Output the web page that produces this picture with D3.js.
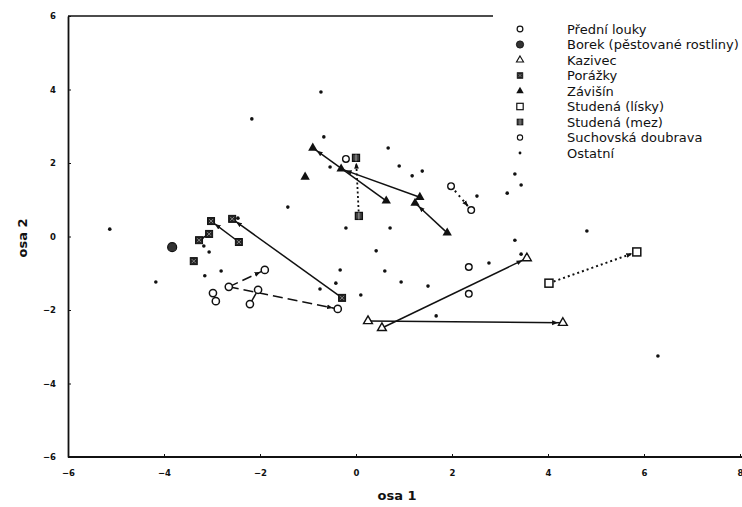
<!DOCTYPE html>
<html>
<head>
<meta charset="utf-8">
<script src="https://cdn.jsdelivr.net/npm/d3@7"></script>
<style>
  body { margin: 0; background: #fff; }
  text { font-family: "DejaVu Sans", "Liberation Sans", Arial, sans-serif; fill: #111; }
</style>
</head>
<body>
<script>
// Ordination scores (osa 1, osa 2)
const predniLouky = [[-2.65, -1.37], [-1.90, -0.91], [-0.38, -1.97], [-2.04, -1.45], [-2.21, -1.84], [-2.98, -1.54], [-2.92, -1.76]];
const predniLinks = [[0, 1], [0, 2]];           // dashed, arrow at second point
const predniStubs = [[3, 4]];                   // short solid stick

const borek = [[-3.83, -0.29]];

const kazivec = [[0.25, -2.30], [4.31, -2.35], [0.54, -2.49], [3.56, -0.59]];
const kazivecLinks = [[0, 1], [2, 3]];

const porazky = [[-3.02, 0.42], [-2.44, -0.15], [-2.58, 0.48], [-0.29, -1.67], [-3.06, 0.07], [-3.27, -0.10], [-3.38, -0.67]];
const porazkyLinks = [[1, 0], [3, 2], [5, 4]];

const zavisin = [[-0.90, 2.41], [0.63, 0.97], [-0.31, 1.84], [1.33, 1.07], [1.23, 0.91], [1.90, 0.10], [-1.06, 1.62]];
const zavisinLinks = [[1, 0], [3, 2], [5, 4]];

const studenaLisky = [[4.02, -1.27], [5.85, -0.42]];
const studenaLiskyLinks = [[0, 1]];

const studenaMez = [[0.00, 2.14], [0.06, 0.56]];
const studenaMezLinks = [[1, 0]];

const suchovska = [[-0.21, 2.11], [1.98, 1.37], [2.40, 0.72], [2.35, -0.83], [2.35, -1.56]];
const suchovskaLinks = [[1, 2]];

const ostatni = [
  [-2.17, 3.20], [-0.73, 3.93], [-0.67, 2.71], [-0.54, 1.89], [-1.42, 0.80], [-2.46, 0.50],
  [-3.17, -0.26], [-3.06, -0.42], [-4.17, -1.24], [-3.15, -1.07], [-2.81, -0.94], [-0.75, -1.43],
  [-0.42, -1.27], [-0.33, -0.91], [-0.21, 0.23], [0.67, 2.41], [0.90, 1.92], [1.17, 1.65],
  [1.38, 1.78], [2.52, 1.10], [3.15, 1.18], [3.31, 1.70], [3.44, 1.40], [0.71, 0.23],
  [0.42, -0.39], [3.31, -0.10], [3.44, -0.48], [2.77, -0.72], [0.60, -0.94], [0.94, -1.24],
  [1.50, -1.35], [0.10, -1.59], [1.67, -2.16], [4.81, 0.15], [6.29, -3.25], [-5.13, 0.20]
];

const legendLabels = ["Přední louky", "Borek (pěstované rostliny)", "Kazivec", "Porážky", "Závišín",
  "Studená (lísky)", "Studená (mez)", "Suchovská doubrava", "Ostatní"];

const xTicks = [-6, -4, -2, 0, 2, 4, 6, 8];
const yTicks = [-6, -4, -2, 0, 2, 4, 6];

const width = 742;
const height = 507;
const ink = "#111";

const x = d3.scaleLinear().domain([-6, 8]).range([68, 740]);
const y = d3.scaleLinear().domain([-6, 6]).range([457, 16]);

const svg = d3.select("body").append("svg")
  .attr("width", width)
  .attr("height", height);

svg.append("defs").append("marker")
  .attr("id", "arr")
  .attr("viewBox", "0 0 10 10")
  .attr("refX", 18)
  .attr("refY", 5)
  .attr("markerUnits", "userSpaceOnUse")
  .attr("markerWidth", 6)
  .attr("markerHeight", 6)
  .attr("orient", "auto")
  .append("path")
  .attr("d", "M0,1L10,5L0,9Z")
  .attr("fill", ink);

// frame: top line only partly drawn in the original
svg.append("line")
  .attr("x1", x(-6)).attr("x2", 493)
  .attr("y1", y(6)).attr("y2", y(6))
  .attr("stroke", ink).attr("stroke-width", 1.5);

const xAxis = svg.append("g")
  .attr("transform", `translate(0,${y(-6)})`)
  .call(d3.axisBottom(x).tickValues(xTicks).tickSize(-3).tickSizeOuter(0).tickPadding(13));
const yAxis = svg.append("g")
  .attr("transform", `translate(${x(-6)},0)`)
  .call(d3.axisLeft(y).tickValues(yTicks).tickSize(-3).tickSizeOuter(0).tickPadding(12));

xAxis.select(".domain").attr("d", `M${x(-6)},0H${width}`);
[xAxis, yAxis].forEach(a => {
  a.select(".domain").attr("stroke", ink).attr("stroke-width", 1.8);
  a.selectAll(".tick line").attr("stroke", ink);
  a.selectAll(".tick text")
    .attr("font-size", 8.5)
    .attr("font-weight", "bold")
    .style("font-family", "'DejaVu Sans', sans-serif");
});

svg.append("text")
  .attr("x", 397).attr("y", 500)
  .attr("text-anchor", "middle")
  .attr("font-size", 13)
  .attr("font-weight", "bold")
  .text("osa 1");

svg.append("text")
  .attr("transform", "translate(27,238) rotate(-90)")
  .attr("text-anchor", "middle")
  .attr("font-size", 13)
  .attr("font-weight", "bold")
  .text("osa 2");

// connecting lines
function drawLinks(points, links, dash, arrow = true, width = 1.5) {
  svg.append("g")
    .selectAll("line")
    .data(links)
    .join("line")
    .attr("x1", d => x(points[d[0]][0]))
    .attr("y1", d => y(points[d[0]][1]))
    .attr("x2", d => x(points[d[1]][0]))
    .attr("y2", d => y(points[d[1]][1]))
    .attr("stroke", ink)
    .attr("stroke-width", width)
    .attr("stroke-dasharray", dash)
    .attr("marker-end", arrow ? "url(#arr)" : null);
}

drawLinks(predniLouky, predniLinks, "10,5");
drawLinks(predniLouky, predniStubs, null, false);
drawLinks(kazivec, kazivecLinks, null);
drawLinks(porazky, porazkyLinks, null);
drawLinks(zavisin, zavisinLinks, null);
drawLinks(studenaLisky, studenaLiskyLinks, "2,3", true, 2);
drawLinks(studenaMez, studenaMezLinks, "2,2.5", true, 1.8);
drawLinks(suchovska, suchovskaLinks, "2,4", true, 2);

// marker shapes
const shapes = {
  openCircle: g => g.append("circle").attr("r", 3.6).attr("fill", "#fff").attr("stroke", ink).attr("stroke-width", 1.5),
  bigDot: g => g.append("circle").attr("r", 4.5).attr("fill", "#333").attr("stroke", ink).attr("stroke-width", 1.2),
  openTri: g => g.append("path").attr("d", d3.symbol(d3.symbolTriangle, 34)()).attr("fill", "#fff").attr("stroke", ink).attr("stroke-width", 1.4),
  xSquare: g => {
    g.append("rect").attr("x", -3.5).attr("y", -3.5).attr("width", 7).attr("height", 7).attr("fill", "#222").attr("stroke", ink);
    g.append("path").attr("d", "M-2,-2L2,2M-2,2L2,-2").attr("stroke", "#999").attr("stroke-width", 0.8);
  },
  fillTri: g => g.append("path").attr("d", d3.symbol(d3.symbolTriangle, 38)()).attr("fill", ink),
  openSquare: g => g.append("rect").attr("x", -4).attr("y", -4).attr("width", 8).attr("height", 8).attr("fill", "#fff").attr("stroke", ink).attr("stroke-width", 1.5),
  mezSquare: g => {
    g.append("rect").attr("x", -3.5).attr("y", -3.5).attr("width", 7).attr("height", 7).attr("fill", "#444").attr("stroke", ink).attr("stroke-width", 1.3);
    g.append("path").attr("d", "M0,-3.5V3.5").attr("stroke", "#bbb").attr("stroke-width", 0.8);
  },
  smallCircle: g => g.append("circle").attr("r", 3.3).attr("fill", "#fff").attr("stroke", ink).attr("stroke-width", 1.4),
  dot: g => g.append("circle").attr("r", 1.8).attr("fill", ink)
};

function drawPoints(points, shape) {
  svg.append("g")
    .selectAll("g")
    .data(points)
    .join("g")
    .attr("transform", d => `translate(${x(d[0])},${y(d[1])})`)
    .each(function () { shapes[shape](d3.select(this)); });
}

drawPoints(ostatni, "dot");
drawPoints(predniLouky, "openCircle");
drawPoints(borek, "bigDot");
drawPoints(kazivec, "openTri");
drawPoints(porazky, "xSquare");
drawPoints(zavisin, "fillTri");
drawPoints(studenaLisky, "openSquare");
drawPoints(studenaMez, "mezSquare");
drawPoints(suchovska, "smallCircle");

// legend
const legendShapes = ["openCircle", "bigDot", "openTri", "xSquare", "fillTri", "openSquare", "mezSquare", "smallCircle", "dot"];
const legend = svg.append("g").selectAll("g")
  .data(legendLabels)
  .join("g")
  .attr("transform", (d, i) => `translate(520,${29 + i * 15.5})`);

legend.each(function (d, i) {
  const g = d3.select(this).append("g").attr("transform", "scale(0.8)");
  shapes[legendShapes[i]](g);
});

legend.append("text")
  .attr("x", 47)
  .attr("y", 4.5)
  .attr("font-size", 13)
  .text(d => d);
</script>
</body>
</html>
